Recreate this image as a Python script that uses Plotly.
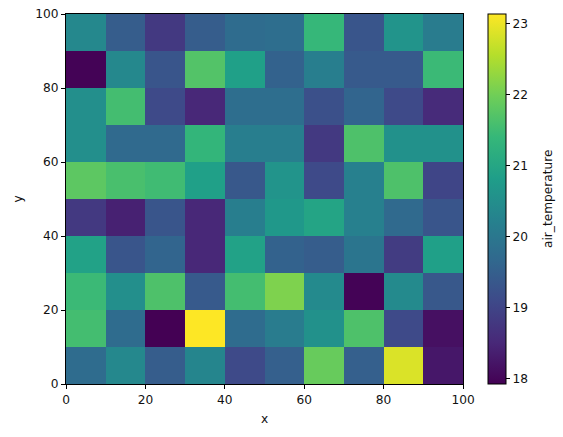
import plotly.graph_objects as go

x_centers = [5, 15, 25, 35, 45, 55, 65, 75, 85, 95]
y_centers = [5, 15, 25, 35, 45, 55, 65, 75, 85, 95]

# rows from bottom (y=0-10) to top (y=90-100)
row_0 = [19.75, 20.35, 19.45, 20.30, 19.10, 19.50, 21.90, 19.50, 22.85, 18.25]
row_1 = [21.55, 19.75, 17.92, 23.13, 19.75, 20.10, 20.55, 21.65, 19.10, 18.15]
row_2 = [21.45, 20.50, 21.65, 19.40, 21.55, 22.10, 20.40, 17.95, 20.40, 19.35]
row_3 = [20.90, 19.30, 19.60, 18.50, 20.90, 19.55, 19.45, 19.95, 18.85, 20.85]
row_4 = [18.80, 18.40, 19.30, 18.50, 20.15, 20.70, 20.95, 20.20, 19.70, 19.30]
row_5 = [21.80, 21.60, 21.50, 20.85, 19.35, 20.60, 19.10, 20.20, 21.65, 19.00]
row_6 = [20.50, 19.70, 19.70, 21.35, 20.15, 20.15, 18.80, 21.65, 20.55, 20.55]
row_7 = [20.50, 21.55, 19.10, 18.50, 19.80, 19.80, 19.20, 19.60, 19.10, 18.55]
row_8 = [17.95, 20.35, 19.30, 21.70, 20.85, 19.55, 20.15, 19.40, 19.40, 21.45]
row_9 = [20.35, 19.45, 18.80, 19.45, 19.75, 19.80, 21.40, 19.30, 20.60, 20.10]

z = [row_0, row_1, row_2, row_3, row_4, row_5, row_6, row_7, row_8, row_9]

tick_vals = [0, 20, 40, 60, 80, 100]
cbar_ticks = [18, 19, 20, 21, 22, 23]
cbar_label = "air_temperature"

zmin = min(min(r) for r in z)
zmax = max(max(r) for r in z)

font = dict(family="DejaVu Sans", size=12.2, color="#111111")

fig = go.Figure(go.Heatmap(
    x=x_centers, y=y_centers, z=z,
    colorscale="Viridis", zmin=zmin, zmax=zmax,
    colorbar=dict(
        x=(488 - 66) / 397, xanchor="left", xref="paper",
        y=0.5, yanchor="middle", len=1.0, lenmode="fraction",
        xpad=0, ypad=0,
        thickness=18, thicknessmode="pixels",
        outlinecolor="black", outlinewidth=1,
        ticks="outside", ticklen=4, tickcolor="black",
        tickvals=cbar_ticks, tickfont=font,
    ),
))

axis_common = dict(
    range=[0, 100], tickvals=tick_vals, ticks="outside", ticklen=4,
    tickcolor="black", showline=True, linecolor="black", linewidth=1,
    mirror=True, showgrid=False, zeroline=False, tickfont=font,
)

fig.update_layout(
    width=563, height=437,
    margin=dict(l=66, r=100, t=14, b=53, autoexpand=False),
    paper_bgcolor="white", plot_bgcolor="white",
    font=font,
    xaxis=dict(**axis_common, title=dict(text="x", font=font, standoff=8)),
    yaxis=dict(**axis_common, title=dict(text="y", font=font, standoff=10)),
    annotations=[dict(
        text=cbar_label, xref="paper", yref="paper",
        x=(548 - 66) / 397, y=0.5, xanchor="center", yanchor="middle",
        textangle=-90, showarrow=False, font=font,
    )],
)

fig.write_html("out.html")
